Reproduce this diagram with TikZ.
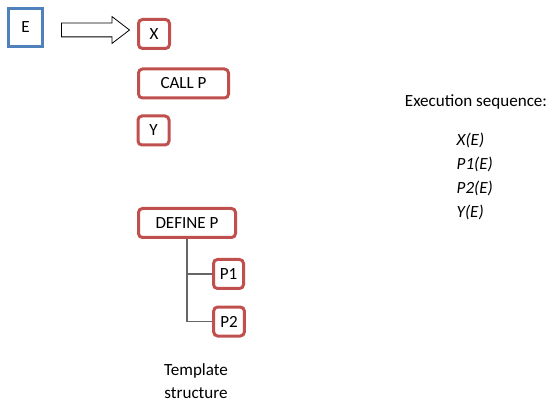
\documentclass[tikz,border=0pt]{standalone}
\usepackage{fontspec}
\setmainfont{Carlito}
\usetikzlibrary{shapes.arrows}
\definecolor{boxred}{HTML}{C0504D}
\definecolor{boxblue}{HTML}{4F81BD}
\definecolor{treegray}{HTML}{666666}
\begin{document}
\begin{tikzpicture}[x=0.75pt,y=-0.75pt,
  font=\fontsize{12.8}{15}\selectfont,
  inbox/.style={draw=boxblue,line width=2.25pt,inner sep=0pt,minimum width=25.5pt,minimum height=28.5pt},
  tbox/.style={draw=boxred,line width=2.25pt,rounded corners=3pt,inner sep=0pt,minimum height=21.75pt}]
\useasboundingbox (0,0) rectangle (556,409);
\node[inbox] (E) at (25.5,27.5) {E};
\node[draw,single arrow,single arrow head extend=4.9pt,single arrow tip angle=75,
  inner xsep=0pt,inner ysep=4.875pt,minimum height=51pt,line width=0.6pt] (arr) at (91,30) {};
\node[tbox,minimum width=23.25pt] (X) at (154,34) {X};
\node[tbox,minimum width=67.5pt] (call) at (183.5,83.5) {CALL P};
\node[tbox,minimum width=23.25pt] (Y) at (153.5,130.5) {Y};
\node[tbox,minimum width=72.75pt] (def) at (187,223) {DEFINE P};
\node[tbox,minimum width=22.5pt] (P1) at (228.5,274) {P1};
\node[tbox,minimum width=23pt] (P2) at (229,321.5) {P2};
\path[draw,treegray,line width=1.2pt] (def.south) |- (P1.west);
\path[draw,treegray,line width=1.2pt] (def.south) |- (P2.west);
\node[align=center,font=\fontsize{12.8}{17.25}\selectfont] (tmpl) at (196,381) {Template\\structure};
\node (seqt) at (476,102) {Execution sequence:};
\node[anchor=west,align=left,font=\fontsize{12.8}{18}\itshape] (seq) at (452,176.5) {X(E)\\P1(E)\\P2(E)\\Y(E)};
\end{tikzpicture}
\end{document}
